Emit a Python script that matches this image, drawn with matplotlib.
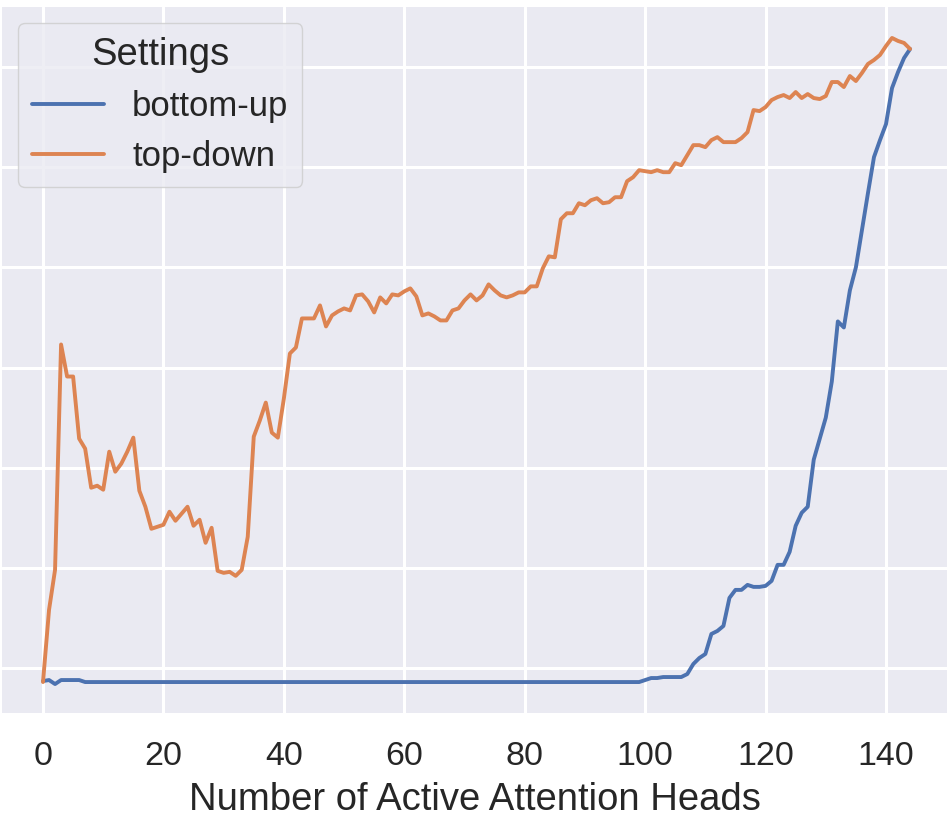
import numpy as np
import matplotlib
matplotlib.use("Agg")
import matplotlib.pyplot as plt
import seaborn as sns

# ---- data ----
heads = list(range(0, 145))

top_down = [
    -0.14, 0.58, 0.98, 3.23, 2.91, 2.91, 2.29, 2.19, 1.80, 1.82,
    1.78, 2.16, 1.96, 2.04, 2.16, 2.30, 1.77, 1.61, 1.39, 1.41,
    1.43, 1.56, 1.47, 1.54, 1.61, 1.42, 1.48, 1.25, 1.40, 0.97,
    0.95, 0.96, 0.92, 0.98, 1.31, 2.31, 2.47, 2.65, 2.35, 2.30,
    2.69, 3.14, 3.20, 3.49, 3.49, 3.49, 3.62, 3.41, 3.52, 3.56,
    3.59, 3.57, 3.72, 3.73, 3.66, 3.55, 3.70, 3.64, 3.73, 3.72,
    3.76, 3.79, 3.71, 3.52, 3.54, 3.51, 3.47, 3.47, 3.57, 3.59,
    3.67, 3.73, 3.67, 3.72, 3.83, 3.77, 3.72, 3.70, 3.72, 3.75,
    3.75, 3.81, 3.81, 3.99, 4.11, 4.10, 4.48, 4.54, 4.54, 4.64,
    4.62, 4.67, 4.69, 4.64, 4.65, 4.70, 4.70, 4.86, 4.90, 4.97,
    4.96, 4.95, 4.97, 4.95, 4.95, 5.04, 5.02, 5.12, 5.22, 5.22,
    5.20, 5.27, 5.30, 5.25, 5.25, 5.25, 5.29, 5.35, 5.57, 5.56,
    5.60, 5.67, 5.70, 5.72, 5.69, 5.75, 5.69, 5.73, 5.69, 5.68,
    5.71, 5.85, 5.85, 5.80, 5.91, 5.86, 5.94, 6.03, 6.07, 6.12,
    6.21, 6.29, 6.26, 6.24, 6.18,
]

bottom_up = [
    -0.13, -0.12, -0.16, -0.12, -0.12, -0.12, -0.12, -0.14, -0.14, -0.14,
    -0.14, -0.14, -0.14, -0.14, -0.14, -0.14, -0.14, -0.14, -0.14, -0.14,
    -0.14, -0.14, -0.14, -0.14, -0.14, -0.14, -0.14, -0.14, -0.14, -0.14,
    -0.14, -0.14, -0.14, -0.14, -0.14, -0.14, -0.14, -0.14, -0.14, -0.14,
    -0.14, -0.14, -0.14, -0.14, -0.14, -0.14, -0.14, -0.14, -0.14, -0.14,
    -0.14, -0.14, -0.14, -0.14, -0.14, -0.14, -0.14, -0.14, -0.14, -0.14,
    -0.14, -0.14, -0.14, -0.14, -0.14, -0.14, -0.14, -0.14, -0.14, -0.14,
    -0.14, -0.14, -0.14, -0.14, -0.14, -0.14, -0.14, -0.14, -0.14, -0.14,
    -0.14, -0.14, -0.14, -0.14, -0.14, -0.14, -0.14, -0.14, -0.14, -0.14,
    -0.14, -0.14, -0.14, -0.14, -0.14, -0.14, -0.14, -0.14, -0.14, -0.14,
    -0.12, -0.10, -0.10, -0.09, -0.09, -0.09, -0.09, -0.06, 0.04, 0.10,
    0.14, 0.34, 0.37, 0.42, 0.70, 0.78, 0.78, 0.83, 0.81, 0.81,
    0.82, 0.87, 1.03, 1.03, 1.16, 1.42, 1.55, 1.61, 2.08, 2.29,
    2.50, 2.86, 3.46, 3.40, 3.77, 4.00, 4.37, 4.74, 5.10, 5.27,
    5.43, 5.79, 5.95, 6.09, 6.18,
]

series_names = ["bottom-up", "top-down"]
legend_title = "Settings"
x_label = "Number of Active Attention Heads"
x_ticks = [0, 20, 40, 60, 80, 100, 120, 140]
y_grid = [0, 1, 2, 3, 4, 5, 6]

# ---- style ----
sns.set_theme(style="darkgrid")
plt.rcParams["font.family"] = ["Liberation Sans", "DejaVu Sans"]
text_color = "#262626"
colors = sns.color_palette("deep")

W, H = 947, 817
fig = plt.figure(figsize=(W / 100, H / 100), dpi=100)
ax = fig.add_axes([2 / W, (H - 713) / H, 945 / W, (713 - 7) / H])

ax.plot(heads, bottom_up, color=colors[0], lw=2.8, label=series_names[0])
ax.plot(heads, top_down, color=colors[1], lw=2.8, label=series_names[1])

ax.set_xlim(-6.81, 150.13)
ax.set_ylim(-0.449, 6.599)
ax.set_xticks(x_ticks)
ax.set_yticks(y_grid)
ax.set_yticklabels([])
ax.grid(True, color="white", linewidth=2.2)
ax.tick_params(axis="both", length=0)
ax.tick_params(axis="x", labelsize=24.5, labelcolor=text_color, pad=20)
for s in ax.spines.values():
    s.set_visible(False)

ax.set_xlabel(x_label, fontsize=27.5, color=text_color, labelpad=7)

leg = ax.legend(title=legend_title, loc="upper left", fontsize=25,
                title_fontsize=27.5, handlelength=2.1, borderaxespad=0.45,
                labelcolor=text_color)
leg.get_title().set_color(text_color)

fig.savefig("out.png", dpi=100)
